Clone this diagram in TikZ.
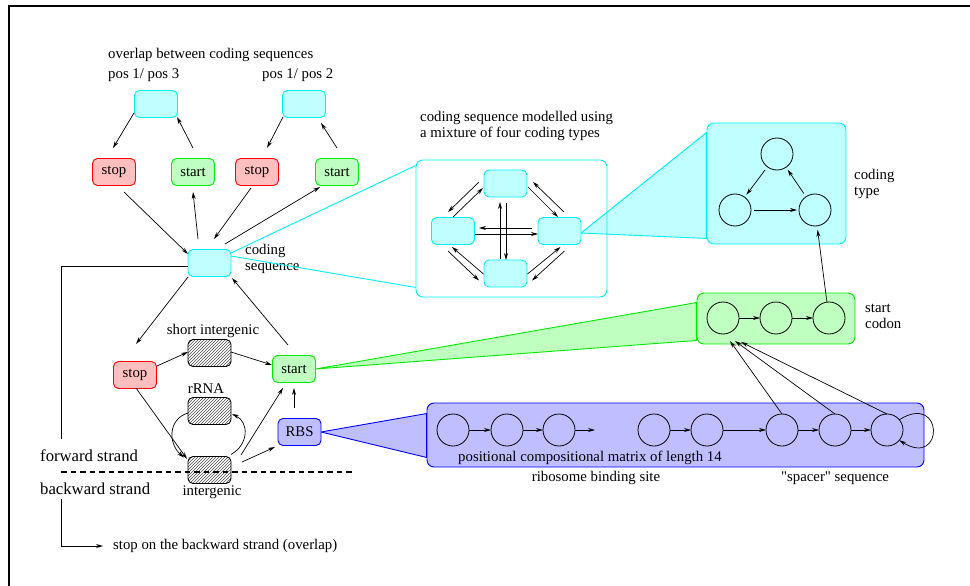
\documentclass[tikz,border=0pt]{standalone}
\usepackage{fontspec}
\setmainfont{Liberation Serif}
\newfontfamily\rawserif{Liberation Serif}
\usetikzlibrary{arrows.meta,calc,patterns,backgrounds}
\definecolor{cyline}{RGB}{0,240,250}
\definecolor{cyfill}{RGB}{191,255,255}
\definecolor{rdline}{RGB}{255,0,0}
\definecolor{rdfill}{RGB}{255,191,191}
\definecolor{grline}{RGB}{0,235,0}
\definecolor{grfill}{RGB}{191,255,191}
\definecolor{blline}{RGB}{0,0,255}
\definecolor{blfill}{RGB}{191,191,255}
\begin{document}
\begin{tikzpicture}[x=1pt,y=-1pt,
  font=\fontsize{14.8}{16}\selectfont,
  box/.style={rounded corners=5pt, minimum width=43pt, minimum height=27pt, inner sep=0pt, outer sep=0pt, line width=0.9pt},
  cybox/.style={box, draw=cyline, fill=cyfill},
  rdbox/.style={box, draw=rdline, fill=rdfill},
  grbox/.style={box, draw=grline, fill=grfill},
  blbox/.style={box, draw=blline, fill=blfill},
  hbox/.style={box, draw=black, pattern=north east lines, pattern color=black!70},
  st/.style={circle, draw=black, line width=0.8pt, minimum size=32pt, inner sep=0pt, outer sep=0pt},
  arr/.style={-{Stealth[length=7pt,width=4pt]}, line width=0.7pt},
  ln/.style={line width=0.7pt},
  lbl/.style={inner sep=0pt, align=left},
  big/.style={font=\fontsize{16.7}{18}\selectfont},
  bigbox/.style={rounded corners=7pt, line width=0.9pt, inner sep=0pt}
]
\useasboundingbox (0,0) rectangle (970,586);
% frame
\draw[line width=2.3pt] (9.2,592) -- (9.2,6.2) -- (976,6.2);

% ---- top overlap group
\node[lbl, anchor=west] (ovt) at (108,55) {overlap between coding sequences};
\node[lbl, anchor=west] (p13) at (108,75) {pos 1/ pos 3};
\node[lbl, anchor=west] (p12) at (262,75) {pos 1/ pos 2};
\node[cybox] (ov1) at (156,104) {};
\node[cybox] (ov2) at (304,104) {};
\node[rdbox] (stop1) at (114,172) {stop};
\node[grbox] (start1) at (193,172) {start};
\node[rdbox] (stop2) at (257,172) {stop};
\node[grbox] (start2) at (337,172) {start};
\node[cybox] (cs) at (209.5,263) {};
\node[lbl, anchor=west] (cst) at (245,259) {coding\\sequence};

\draw[arr] ($(ov1)+(-22,9)$) -- ($(stop1)+(-1,-24)$);
\draw[arr] ($(start1)+(0,-24)$) -- ($(ov1)+(21,13)$);
\draw[arr] ($(ov2)+(-21,13)$) -- ($(stop2)+(10,-24)$);
\draw[arr] ($(start2)+(0,-24)$) -- ($(ov2)+(17,19)$);

\draw[arr] ($(stop1)+(10,20)$) -- ($(cs)+(-21.5,-9)$);
\draw[arr] ($(cs)+(-11.5,-24)$) -- ($(start1)+(0,20)$);
\draw[arr] ($(stop2)+(-6,16)$) -- ($(cs)+(4.5,-24)$);
\draw[arr] ($(cs)+(15.5,-19)$) -- ($(start2)+(-17,15)$);

% ---- lower left group
\node[rdbox] (stop3) at (135,375) {stop};
\node[grbox] (start3) at (294,369) {start};
\node[hbox] (shortig) at (209.5,353) {};
\node[hbox] (rrna) at (209.5,411) {};
\node[hbox] (intg) at (209.5,470) {};
\node[blbox] (rbs) at (299.5,432) {RBS};
\node[lbl] (sit) at (213,331) {short intergenic};
\node[lbl] (rrt) at (206,389) {rRNA};
\node[lbl] (igt) at (212,492) {intergenic};
\node[lbl, big, anchor=west] (fwd) at (40,456) {forward strand};
\node[lbl, big, anchor=west] (bwd) at (40,489) {backward strand};
\node[lbl, anchor=west] (bst) at (113,546) {stop on the backward strand (overlap)};

\draw[arr] ($(cs)+(-21.5,14)$) -- ($(stop3)+(1,-31)$);
\draw[arr] ($(start3)+(-6,-24)$) -- ($(cs)+(22.5,15)$);
\draw[arr] ($(stop3)+(22,-9)$) -- ($(shortig)+(-21.5,-1)$);
\draw[arr] ($(shortig)+(21.5,-1)$) -- ($(start3)+(-22,-4)$);
\draw[arr] ($(stop3)+(1,13)$) -- ($(intg)+(-22.5,-11)$);
\draw[arr] ($(rrna.west)+(0,2)$) .. controls +(-20,6) and +(-16,-14) .. ($(intg.north west)+(-4,1)$);
\draw[arr] ($(intg.north east)+(0,-2)$) .. controls +(18,-10) and +(17,8) .. ($(rrna.east)+(1,3)$);
\draw[arr] ($(intg)+(31.5,-15)$) -- ($(start3)+(-11,19)$);
\draw[arr] ($(intg)+(32.5,-8)$) -- ($(rbs)+(-24.5,15)$);
\draw[arr] ($(rbs)+(-5.5,-24)$) -- ($(start3)+(0,19)$);

\coordinate (fl) at (61,439);
\draw[ln] ($(cs.west)+(0,3)$) -| (fl);
\coordinate (dl1) at (61,472);
\coordinate (dl2) at (353,472);
\draw[line width=1.4pt, dash pattern=on 5.5pt off 4pt] (dl1) -- (dl2);
\coordinate (bk) at (61,499);
\draw[arr] (bk) |- ($(bst.west)+(-10,0)$);

% ---- mixture box
\node[bigbox, draw=cyline, minimum width=191pt, minimum height=137pt] (mix) at (511.5,228.5) {};
\node[lbl, anchor=west] (mixt) at (420,126) {coding sequence modelled using\\a mixture of four coding types};
\node[cybox] (mt) at (505.5,183.5) {};
\node[cybox] (ml) at (453,231) {};
\node[cybox] (mr) at (559.5,231) {};
\node[cybox] (mb) at (505.5,273.5) {};
\draw[arr] ($(ml)+(0,-14)$) -- ($(mt)+(-22.5,4.5)$);
\draw[arr] ($(mt)+(-26.5,-1.5)$) -- ($(ml)+(-5,-19)$);
\draw[arr] ($(mt)+(22.5,3.5)$) -- ($(mr)+(-1.5,-14)$);
\draw[arr] ($(mr)+(4.5,-19)$) -- ($(mt)+(27.5,-1.5)$);
\draw[arr] ($(ml)+(-5,20)$) -- ($(mb)+(-26.5,7)$);
\draw[arr] ($(mb)+(-22,0.5)$) -- ($(ml)+(-1,16)$);
\draw[arr] ($(mr)+(5,20)$) -- ($(mb)+(26.5,7)$);
\draw[arr] ($(mb)+(22,0.5)$) -- ($(mr)+(1,16)$);
\draw[arr] ($(mr)+(-27.5,-3)$) -- ($(ml)+(26,-3)$);
\draw[arr] ($(ml)+(21.5,3)$) -- ($(mr)+(-21.5,3)$);
\draw[arr] ($(mb)+(-5.5,-15)$) -- ($(mt)+(-5.5,18.5)$);
\draw[arr] ($(mt)+(0.5,19.5)$) -- ($(mb)+(0.5,-13.5)$);

\draw[cyline, line width=0.9pt] ($(cs.east)+(0,-10)$) -- ($(mix.north west)+(0,6)$);
\draw[cyline, line width=0.9pt] ($(cs.east)+(0,-7)$) -- ($(mix.south west)+(0,-10)$);

% ---- coding type box
\node[bigbox, draw=cyline, fill=cyfill, minimum width=139pt, minimum height=121pt] (ctbox) at (776.5,183.5) {};
\node[st] (ct1) at (777,154) {};
\node[st] (ct2) at (735,210) {};
\node[st] (ct3) at (815,210) {};
\node[lbl, anchor=west] (ctt) at (854,184) {coding\\type};
\draw[arr, shorten <=4pt, shorten >=3pt] (ct1) -- (ct2);
\draw[arr, shorten <=3pt, shorten >=2pt] (ct2) -- (ct3);
\draw[arr, shorten <=4pt, shorten >=3pt] (ct3) -- (ct1);

% ---- start codon box
\node[bigbox, draw=grline, fill=grfill, minimum width=158pt, minimum height=51pt] (scbox) at (776,318.5) {};
\node[st] (sc1) at (723,318) {};
\node[st] (sc2) at (776,318) {};
\node[st] (sc3) at (829,318) {};
\node[lbl, anchor=west] (sct) at (865,316) {start\\codon};
\draw[arr] (sc1) -- (sc2);
\draw[arr] (sc2) -- (sc3);
\draw[arr, shorten >=4pt] (sc3) -- (ct3);

% ---- RBS box
\node[bigbox, draw=blline, fill=blfill, minimum width=497pt, minimum height=64pt] (rbsbox) at (675.5,435) {};
\node[st] (r1) at (453,430) {};
\node[st] (r2) at (507,430) {};
\node[st] (r3) at (559,430) {};
\node[st] (r4) at (654,430) {};
\node[st] (r5) at (707,430) {};
\node[st] (r6) at (782,430) {};
\node[st] (r7) at (835,430) {};
\node[st] (r8) at (887,430) {};
\coordinate (r3e) at (595,430);
\draw[arr] (r1) -- (r2);
\draw[arr] (r2) -- (r3);
\draw[arr] (r3) -- (r3e);
\draw[arr] (r4) -- (r5);
\draw[arr] (r5) -- (r6);
\draw[arr] (r6) -- (r7);
\draw[arr] (r7) -- (r8);
\draw[arr] (r8.40) .. controls +(45,-28) and +(45,28) .. (r8.-40);
\draw[arr] (r6.north) -- ($(sc1.south)+(7,7)$);
\draw[arr] (r7.north) -- ($(sc1.south)+(12,7)$);
\draw[arr] (r8.north) -- ($(sc1.south)+(18,8)$);
\node[lbl, anchor=west] (pcm) at (458,458) {positional compositional matrix of length 14};
\node[lbl] (rbst) at (596,478) {ribosome binding site};
\node[lbl] (spt) at (835,478) {{\rawserif "spacer"} sequence};

% ---- zoom wedges
\begin{scope}[on background layer]
\filldraw[fill=cyfill, draw=cyline, line width=0.9pt] ($(mr.east)+(0,2)$) -- ($(ctbox.north west)+(0,10)$) -- ($(ctbox.south west)+(0,-6)$) -- cycle;
\filldraw[fill=grfill, draw=grline, line width=0.9pt] (start3.east) -- ($(scbox.north west)+(0,10)$) -- ($(scbox.south west)+(0,-4)$) -- cycle;
\filldraw[fill=blfill, draw=blline, line width=0.9pt] (rbs.east) -- ($(rbsbox.north west)+(0,11)$) -- ($(rbsbox.south west)+(0,-10)$) -- cycle;
\end{scope}
\end{tikzpicture}
\end{document}
